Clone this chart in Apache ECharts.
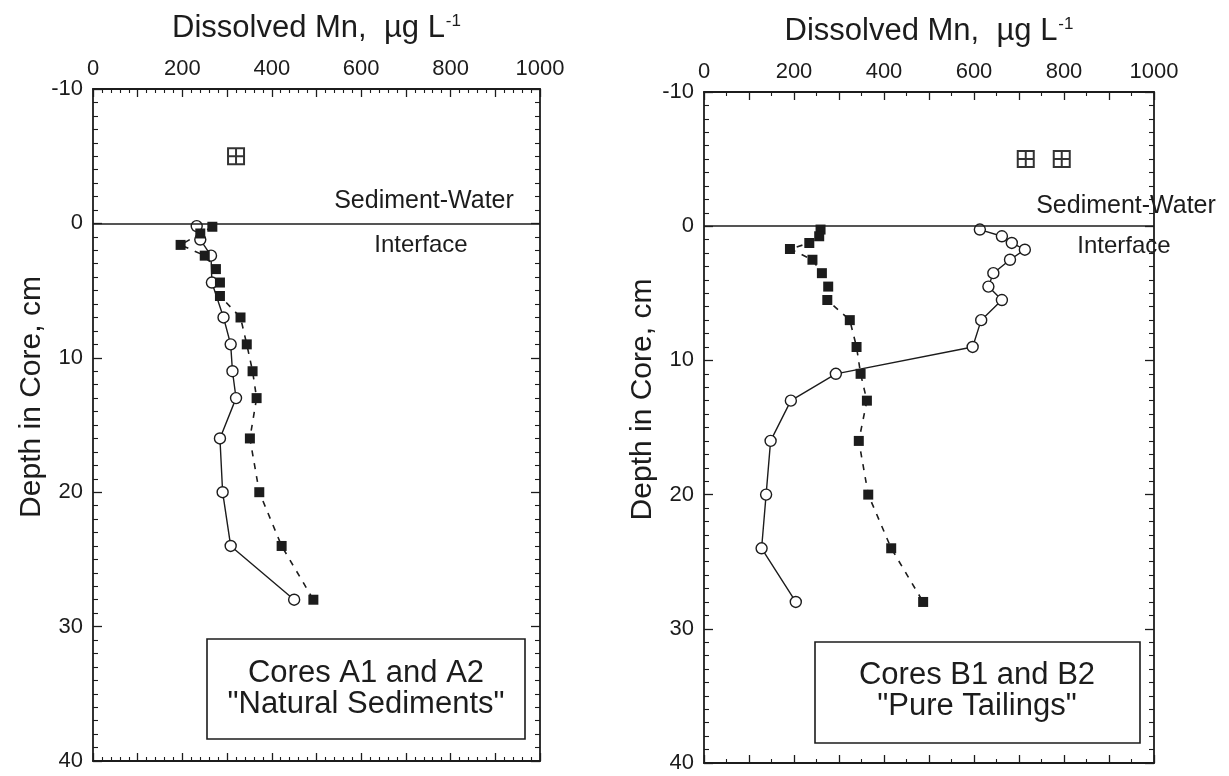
<!DOCTYPE html>
<html>
<head>
<meta charset="utf-8">
<script src="https://cdn.jsdelivr.net/npm/echarts@6/dist/echarts.min.js"></script>
<style>
  html, body { margin: 0; padding: 0; background: #ffffff; }
  #chart { width: 1229px; height: 776px; }
</style>
</head>
<body>
<div id="chart"></div>
<script>
// Axis tick labels
const mnTickLabels = [0, 200, 400, 600, 800, 1000];
const depthTickLabels = [-10, 0, 10, 20, 30, 40];

// Cores A1 and A2 — natural sediments (depth in cm, dissolved Mn in µg/L)
const coreAOpenDepth = [0.2, 1.2, 2.4, 4.4, 7, 9, 11, 13, 16, 20, 24, 28];
const coreAOpenMn    = [232, 240, 264, 266, 292, 308, 312, 320, 284, 290, 308, 450];
const coreAFilledDepth = [0.25, 0.75, 1.6, 2.4, 3.4, 4.4, 5.4, 7, 9, 11, 13, 16, 20, 24, 28];
const coreAFilledMn    = [267, 240, 196, 250, 275, 284, 284, 330, 344, 357, 366, 351, 372, 422, 493];
const coreAWaterDepth = [-5];
const coreAWaterMn    = [320];

// Cores B1 and B2 — pure tailings
const coreBOpenDepth = [0.25, 0.75, 1.25, 1.75, 2.5, 3.5, 4.5, 5.5, 7, 9, 11, 13, 16, 20, 24, 28];
const coreBOpenMn    = [613, 662, 684, 713, 680, 643, 632, 662, 616, 597, 293, 193, 148, 138, 128, 204];
const coreBFilledDepth = [0.25, 0.75, 1.25, 1.7, 2.5, 3.5, 4.5, 5.5, 7, 9, 11, 13, 16, 20, 24, 28];
const coreBFilledMn    = [259, 256, 234, 191, 241, 262, 276, 274, 324, 339, 348, 362, 344, 365, 416, 487];
const coreBWaterDepth = [-5, -5];
const coreBWaterMn    = [715, 795];

const INK = '#1c1c1c';
const FONT = '"Liberation Sans", Arial, Helvetica, sans-serif';

const pairs = (xs, ys) => xs.map((x, i) => [x, ys[i]]);

function mnAxis(gridIndex, position, minorSplit, withLabels) {
  return {
    type: 'value', gridIndex, position,
    min: 0, max: 1000, interval: 100,
    name: withLabels ? '{m|Dissolved Mn,  µg L}{s|-1}' : '',
    nameLocation: 'middle', nameGap: 45,
    nameTextStyle: {
      rich: {
        m: { fontSize: 31, fontFamily: FONT, color: INK },
        s: { fontSize: 17, fontFamily: FONT, color: INK, verticalAlign: 'top', padding: [0, 0, 0, 1] }
      }
    },
    axisLine: { show: true, onZero: false, lineStyle: { color: INK, width: 1.8 } },
    axisTick: { show: true, inside: true, length: 8, lineStyle: { color: INK, width: 1.3 } },
    minorTick: { show: true, splitNumber: minorSplit, length: 4, lineStyle: { color: INK, width: 1.1 } },
    axisLabel: {
      show: withLabels, margin: 9, fontSize: 22, fontFamily: FONT, color: INK,
      formatter: v => (mnTickLabels.includes(v) ? String(v) : '')
    },
    splitLine: { show: false },
    minorSplitLine: { show: false }
  };
}

function depthAxis(gridIndex, position, withLabels) {
  return {
    type: 'value', gridIndex, position, inverse: true,
    min: depthTickLabels[0], max: depthTickLabels[depthTickLabels.length - 1], interval: 10,
    name: withLabels ? 'Depth in Core, cm' : '',
    nameLocation: 'middle', nameGap: 46,
    // left padding nudges the rotated title a little toward the top
    nameTextStyle: { fontSize: 30, fontFamily: FONT, color: INK, padding: [0, 0, 0, 56] },
    axisLine: { show: true, onZero: false, lineStyle: { color: INK, width: 1.8 } },
    axisTick: { show: true, inside: true, length: 9, lineStyle: { color: INK, width: 1.3 } },
    minorTick: { show: true, splitNumber: 10, length: 5, lineStyle: { color: INK, width: 1.1 } },
    axisLabel: { show: withLabels, margin: 10, fontSize: 22, fontFamily: FONT, color: INK },
    splitLine: { show: false },
    minorSplitLine: { show: false }
  };
}

const openStyle = {
  type: 'line', symbol: 'circle', symbolSize: 11,
  itemStyle: { color: '#ffffff', borderColor: INK, borderWidth: 1.4 },
  lineStyle: { color: INK, width: 1.4, type: 'solid' },
  z: 3
};
const filledStyle = {
  type: 'line', symbol: 'rect', symbolSize: 10,
  itemStyle: { color: INK, borderColor: INK, borderWidth: 0 },
  lineStyle: { color: INK, width: 1.6, type: [6, 7] },
  z: 4
};
const crossSymbol = 'path://M0,0L20,0L20,20L0,20Z M10,0L10,20 M0,10L20,10';
const interfaceLine = {
  silent: true, symbol: ['none', 'none'], label: { show: false },
  lineStyle: { color: INK, type: 'solid', width: 1.7 },
  data: [{ yAxis: 0 }]
};

function waterSeries(xi, yi, xs, ys) {
  return {
    type: 'scatter', xAxisIndex: xi, yAxisIndex: yi,
    symbol: crossSymbol, symbolSize: 16, symbolKeepAspect: true,
    itemStyle: { color: 'rgba(0,0,0,0)', borderColor: '#000000', borderWidth: 2 },
    data: pairs(xs, ys),
    markLine: interfaceLine,
    z: 2
  };
}

const chart = echarts.init(document.getElementById('chart'), null, { renderer: 'canvas' });

const textStyle = (size) => ({ font: size + 'px ' + FONT, fill: INK });

chart.setOption({
  backgroundColor: '#ffffff',
  animation: false,
  grid: [
    { left: 93, top: 89, width: 447, height: 672 },
    { left: 704, top: 92, width: 450, height: 671 }
  ],
  xAxis: [
    mnAxis(0, 'top', 5, true),
    mnAxis(0, 'bottom', 5, false),
    mnAxis(1, 'top', 2, true),
    mnAxis(1, 'bottom', 2, false)
  ],
  yAxis: [
    depthAxis(0, 'left', true),
    depthAxis(0, 'right', false),
    depthAxis(1, 'left', true),
    depthAxis(1, 'right', false)
  ],
  series: [
    waterSeries(0, 0, coreAWaterMn, coreAWaterDepth),
    Object.assign({}, openStyle, { xAxisIndex: 0, yAxisIndex: 0, data: pairs(coreAOpenMn, coreAOpenDepth) }),
    Object.assign({}, filledStyle, { xAxisIndex: 0, yAxisIndex: 0, data: pairs(coreAFilledMn, coreAFilledDepth) }),
    waterSeries(2, 2, coreBWaterMn, coreBWaterDepth),
    Object.assign({}, openStyle, { xAxisIndex: 2, yAxisIndex: 2, data: pairs(coreBOpenMn, coreBOpenDepth) }),
    Object.assign({}, filledStyle, { xAxisIndex: 2, yAxisIndex: 2, data: pairs(coreBFilledMn, coreBFilledDepth) })
  ],
  graphic: [
    // interface annotations
    { type: 'text', x: 424, y: 201, style: Object.assign(textStyle(25), { text: 'Sediment-Water', textAlign: 'center', textVerticalAlign: 'middle' }) },
    { type: 'text', x: 421, y: 245, style: Object.assign(textStyle(24), { text: 'Interface', textAlign: 'center', textVerticalAlign: 'middle' }) },
    { type: 'text', x: 1126, y: 206, style: Object.assign(textStyle(25), { text: 'Sediment-Water', textAlign: 'center', textVerticalAlign: 'middle' }) },
    { type: 'text', x: 1124, y: 246, style: Object.assign(textStyle(24), { text: 'Interface', textAlign: 'center', textVerticalAlign: 'middle' }) },
    // core description boxes
    { type: 'rect', shape: { x: 207, y: 639, width: 318, height: 100 }, style: { fill: '#ffffff', stroke: INK, lineWidth: 1.6 }, z: 10 },
    { type: 'text', x: 366, y: 689, z: 11, style: Object.assign(textStyle(31), { text: 'Cores A1 and A2\n"Natural Sediments"', textAlign: 'center', textVerticalAlign: 'middle', lineHeight: 31 }) },
    { type: 'rect', shape: { x: 815, y: 642, width: 325, height: 101 }, style: { fill: '#ffffff', stroke: INK, lineWidth: 1.6 }, z: 10 },
    { type: 'text', x: 977, y: 691, z: 11, style: Object.assign(textStyle(31), { text: 'Cores B1 and B2\n"Pure Tailings"', textAlign: 'center', textVerticalAlign: 'middle', lineHeight: 31 }) }
  ]
});
</script>
</body>
</html>
